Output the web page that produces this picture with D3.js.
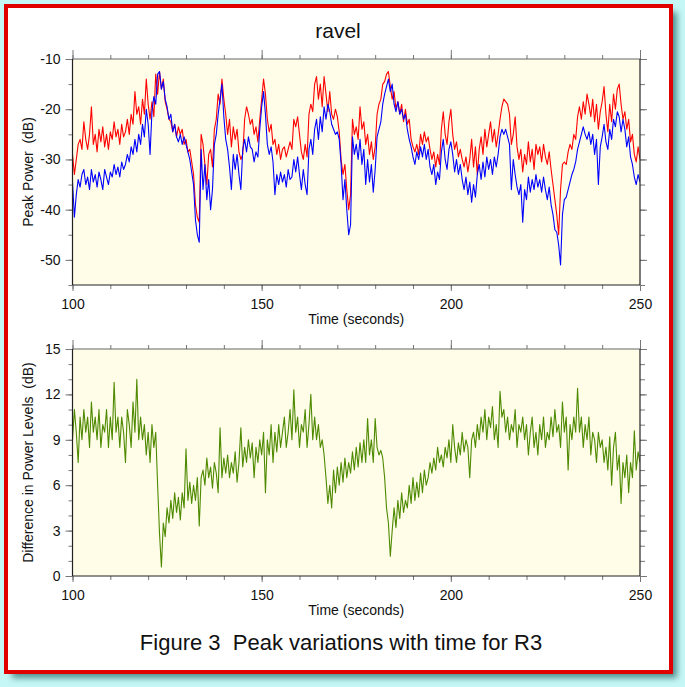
<!DOCTYPE html>
<html><head><meta charset="utf-8">
<script src="https://cdn.jsdelivr.net/npm/d3@7"></script>
<style>html,body{margin:0;padding:0;background:#c6f7f7;} svg{display:block;} text{white-space:pre;}</style>
</head><body><svg id="c" width="685" height="687"></svg>
<script>
const titleText = "ravel";
const captionText = "Figure 3  Peak variations with time for R3";
const xLabel = "Time (seconds)";
const yLabelTop = "Peak Power  (dB)";
const yLabelBottom = "Difference in Power Levels  (dB)";
const timeStart = 100, timeStep = 0.5;
const xMajorTicks = [100, 150, 200, 250];
const yTopTicks = [-10, -20, -30, -40, -50];
const yBottomTicks = [0, 3, 6, 9, 12, 15];

const peakRed = [
-29,-33,-30,-27,-26,-28,-22.5,-26,-28,-25,
-19.5,-27,-25,-28.5,-24,-26.5,-23.5,-27.5,-25,-28,
-24.5,-26,-22.5,-25.5,-24,-27,-23,-25.5,-24.5,-22,
-25,-21,-23,-16.5,-21,-19.5,-23,-18,-21,-14,
-19,-22,-18.5,-21.5,-13,-17,-12.5,-16,-14,-18.5,
-20,-22,-22.5,-24.5,-23,-25.5,-23.5,-25,-24,-27,
-26,-28.5,-28,-30.5,-33,-39,-41.5,-42.5,-25,-27,
-31,-35,-29,-28,-31.5,-24,-22,-17,-19,-14,
-18,-21,-25,-22,-27.5,-23.5,-26,-24,-28.5,-30,
-29,-22,-19.5,-21,-23,-22,-25,-23.5,-26.5,-22,
-18,-14,-17,-22,-24.5,-23,-27,-26,-29,-27,
-30,-28,-27.5,-29.5,-28,-26.5,-28,-22,-23.5,-21.5,
-25,-28.5,-30,-27,-29.5,-21,-19,-20.5,-15,-13.5,
-18,-15,-19.5,-13.5,-17,-20.5,-16.5,-21,-22,-20,
-21.5,-24.5,-30,-33,-31,-36,-40,-37,-22,-25,
-23.5,-26,-19.5,-24,-22.5,-27,-25,-29,-26.5,-30,
-27.5,-21,-19,-18,-15,-14.5,-13,-12.5,-15.5,-18,
-16.5,-20,-18.5,-21,-19,-22.5,-20,-23,-22,-26,
-27.5,-28.5,-27,-29,-25,-27,-24.5,-26.5,-25.5,-28,
-30,-28.5,-31.5,-29,-31,-24,-20.5,-25,-27,-22.5,
-20,-25,-28,-26.5,-29.5,-28,-30,-31.5,-29.5,-32.5,
-30,-26,-31.5,-27.5,-33,-28,-25.5,-29,-24,-27.5,
-25,-22.5,-26.5,-24,-27.5,-25,-22,-19.5,-18,-18.5,
-19,-21,-27,-25,-21.5,-27.5,-30,-28,-32.5,-29,
-31,-26.5,-30.5,-28,-32,-27,-29,-27.5,-30.5,-27,
-29.5,-31,-28.5,-32,-35,-38,-41,-45,-36,-31,
-30.5,-31,-28.5,-27,-28,-25,-26,-21.5,-19.5,-22,
-18.5,-21,-17,-19,-21.5,-18,-22.5,-19,-24,-20.5,
-18.5,-15.5,-21,-24.5,-19,-22.5,-17,-20,-16,-15,
-19,-22,-20.5,-24,-22,-26.5,-25,-29,-30.5,-27.5,
-30];

const peakBlue = [
-34.5,-41.5,-37,-34,-35.5,-33,-32,-35,-33.5,-36,
-32,-34.5,-33,-35.5,-32.5,-34,-36,-32,-33.5,-35,
-32.5,-33.5,-31,-33,-31.5,-33.5,-30.5,-32,-31,-29,
-30.5,-27.5,-29,-26,-28.5,-25,-27,-23,-25.5,-20,
-23,-29,-20.5,-17.5,-19,-13,-12.5,-16,-14.5,-18,
-19.5,-22,-21,-24.5,-23,-25.5,-26.5,-25,-27,-25.5,
-27,-28.5,-30,-32.5,-35,-42,-45,-46.5,-28,-36,
-31,-38,-34,-40,-36,-27,-25,-21,-18,-15,
-21.5,-26,-28,-31.5,-36,-29,-32,-29,-33,-36,
-28,-26,-28.5,-25.5,-27.5,-28,-30.5,-28.5,-29.5,-24,
-19.5,-16.5,-21,-27,-29,-27.5,-30.5,-37,-33,-35,
-32.5,-34.5,-33,-35.5,-32,-34,-33.5,-30,-32.5,-29.5,
-33,-36,-32,-35,-37,-28,-26,-29,-24,-22,
-26,-21.5,-24.5,-19.5,-22,-19,-20.5,-23,-24,-25,
-24.5,-26,-31,-38,-34,-40,-45,-43,-25.5,-29,
-27,-30,-26,-31,-28,-35,-30,-34.5,-31,-36.5,
-32,-25.5,-24,-22.5,-19,-17,-15.5,-14,-16.5,-15,
-19,-20.5,-18.5,-21,-20,-22,-21,-24,-26,-27.5,
-29.5,-31,-28.5,-30,-27.5,-29.5,-27,-30,-28,-31.5,
-33,-31,-35,-32.5,-34,-28.5,-26,-30,-32,-28,
-26.5,-29,-32.5,-30,-33,-31,-34,-36,-33.5,-37,
-34.5,-38.5,-35,-37.5,-33,-31,-34,-30.5,-33.5,-29.5,
-32,-30,-33,-29.5,-31.5,-29,-25.5,-24,-25,-24,
-25.5,-27,-36,-30,-33,-35.5,-37,-35,-42.5,-36,
-38,-33.5,-36.5,-34,-36,-33,-35.5,-34,-36.5,-33.5,
-36,-38,-35.5,-39,-41,-44,-44.5,-47,-51,-41,
-38,-37.5,-36,-34.5,-33,-32,-30.5,-28,-26.5,-25,
-23.5,-25,-26,-24.5,-27,-25,-29,-26,-35,-27.5,
-25.5,-23,-26.5,-28,-24,-26,-22,-23.5,-20.5,-21.5,
-24.5,-22,-24,-27.5,-25.5,-29.5,-31,-33.5,-35,-33,
-34.5];

const powerDiff = [
9,11,9.5,7.5,10.5,9,11,9.5,10.5,8.5,
11.5,9.5,10.5,9,11,8.5,10,9.5,11,8.5,
10.5,9,12.8,9.5,10.5,8.5,10.5,9.5,7.5,11,
10,8.5,11.5,9.5,13,9,10.5,9,10,8,
9.5,7.5,10,8.5,9.5,6,2.8,0.6,3.5,2.6,
4.5,3.5,5,3.8,5.5,4.2,5.2,3.7,5.5,4.5,
8.4,5,6.2,4.8,6,5,6.5,3.3,6.5,7,
6,7.8,6.5,7.2,5.8,7.5,6.8,5.5,9.8,6.5,
7.8,6.8,8,6.5,7.5,6.8,8.2,6.2,7.5,9.8,
7.2,8.5,7.5,9,7.8,8.8,6.5,8.5,7.5,9,
8,9.5,5.5,9,8,10,7.5,9.5,8.2,10,
8.5,9.5,10.5,8.5,9.5,11,9,12.3,9.5,10.5,
8.5,10,9.5,11,8.5,10,12,9,10.5,9,
10,8.5,9,8,6.5,4.8,6,4.5,7,5.5,
7.2,6,7.5,6.2,7.8,6.5,7.5,6.8,8.2,7,
8.5,7.2,8.8,7.5,9,7.5,10.4,8,9,7.5,
10.4,8.5,8,8.3,7.8,6.5,4.5,3.5,1.3,3,
4.5,3.2,5,3.8,5.5,4.2,5,4.5,6,4.8,
6.5,5,6.2,5.2,6.8,5.5,7,6,6.5,7.5,
6.8,7.8,7,8.5,7.5,8,7.2,8.5,7.8,9,
7.5,10,8.5,7.5,8.8,8,9.5,8.2,9,8.5,
6.5,9,9.5,8.5,10,9,10.5,9.5,11,9,
10.5,9.8,11.2,9,10,8.5,12.2,10.5,11,9.5,
10.5,9,10,9.5,11,8.5,10,9.5,10.5,9,
10,8,9.5,10.5,8.5,9.5,8,10,9,10.5,
8.5,9.5,9,10.5,9.2,11,9.5,10,8.5,11.5,
9.5,10.5,7,10,9,10.5,9.5,12.4,9.5,10.5,
8.5,10,9,10.5,8,9.5,9,7.5,9.5,8.5,
9,7.5,8.5,7,9.2,6,8.5,9.5,7,8,
4.8,7.5,6.5,8,5.5,7.5,6.5,9.6,7,8.2,
7.5];

const FONT = '"Liberation Sans", Arial, Helvetica, sans-serif';
const svg = d3.select("#c");
const defs = svg.append("defs");
const f = defs.append("filter").attr("id","sh").attr("x","-5%").attr("y","-5%").attr("width","115%").attr("height","115%");
f.append("feGaussianBlur").attr("stdDeviation", 3);

// shadow + frame
svg.append("rect").attr("x", 12).attr("y", 12).attr("width", 665).attr("height", 666)
  .attr("fill", "#4f9090").attr("filter", "url(#sh)");
svg.append("rect").attr("x", 6).attr("y", 6).attr("width", 665).attr("height", 666)
  .attr("fill", "#ffffff").attr("stroke", "#e00000").attr("stroke-width", 4);

const x = d3.scaleLinear().domain([100, 250]).range([72.5, 640]);
const xMinor = d3.range(100, 251, 10);
const plainFmt = d => String(d);

function panel(yScale, majorY, minorY, seriesList, clipId, ylab) {
  const [y0, y1] = yScale.range(); // bottom, top
  const L = x.range()[0], R = x.range()[1];
  const g = svg.append("g");
  g.append("rect").attr("x", L).attr("y", y1).attr("width", R - L).attr("height", y0 - y1).attr("fill", "#fffde8");
  defs.append("clipPath").attr("id", clipId).append("rect")
    .attr("x", L).attr("y", y1).attr("width", R - L).attr("height", y0 - y1);
  const lg = g.append("g").attr("clip-path", `url(#${clipId})`);
  seriesList.forEach(s => {
    const line = d3.line().x((d, i) => x(timeStart + i * timeStep)).y(d => yScale(d));
    lg.append("path").datum(s.values).attr("d", line).attr("fill", "none")
      .attr("stroke", s.color).attr("stroke-width", 1.1).attr("stroke-linejoin", "round");
  });
  const style = a => {
    a.select(".domain").remove();
    a.selectAll(".tick line").attr("stroke", "#777");
    a.selectAll("text").attr("font-family", FONT).attr("font-size", 14).attr("fill", "#111");
  };
  g.append("g").attr("transform", `translate(0,${y0})`)
    .call(d3.axisBottom(x).tickValues(xMinor).tickSize(4).tickFormat("")).call(style);
  g.append("g").attr("transform", `translate(0,${y0})`)
    .call(d3.axisBottom(x).tickValues(xMajorTicks).tickSize(6).tickPadding(8).tickFormat(plainFmt)).call(style);
  g.append("g").attr("transform", `translate(0,${y1})`)
    .call(d3.axisTop(x).tickValues(xMinor).tickSize(4).tickFormat("")).call(style);
  g.append("g").attr("transform", `translate(0,${y1})`)
    .call(d3.axisTop(x).tickValues(xMajorTicks).tickSize(9).tickFormat("")).call(style);
  g.append("g").attr("transform", `translate(${L},0)`)
    .call(d3.axisLeft(yScale).tickValues(minorY).tickSize(4).tickFormat("")).call(style);
  g.append("g").attr("transform", `translate(${L},0)`)
    .call(d3.axisLeft(yScale).tickValues(majorY).tickSize(7).tickPadding(5).tickFormat(plainFmt)).call(style);
  g.append("g").attr("transform", `translate(${R},0)`)
    .call(d3.axisRight(yScale).tickValues(minorY).tickSize(5).tickFormat("")).call(style);
  g.append("g").attr("transform", `translate(${R},0)`)
    .call(d3.axisRight(yScale).tickValues(majorY).tickSize(7).tickFormat("")).call(style);
  g.append("line").attr("x1", L).attr("x2", R).attr("y1", y1).attr("y2", y1).attr("stroke", "#666").attr("stroke-width", 1.2);
  g.append("line").attr("x1", L).attr("x2", R).attr("y1", y0).attr("y2", y0).attr("stroke", "#222").attr("stroke-width", 1.2);
  g.append("line").attr("x1", L).attr("x2", L).attr("y1", y1).attr("y2", y0).attr("stroke", "#222").attr("stroke-width", 1.2);
  g.append("line").attr("x1", R).attr("x2", R).attr("y1", y1).attr("y2", y0).attr("stroke", "#222").attr("stroke-width", 1.2);
  g.append("text").attr("x", (L + R) / 2).attr("y", y0 + 39).attr("text-anchor", "middle")
    .attr("font-family", FONT).attr("font-size", 14).attr("fill", "#111").text(xLabel);
  g.append("text").attr("transform", `translate(33,${(y0 + y1) / 2}) rotate(-90)`).attr("text-anchor", "middle")
    .attr("xml:space", "preserve")
    .attr("font-family", FONT).attr("font-size", 14).attr("fill", "#111").text(ylab);
}

const yTop = d3.scaleLinear().domain([-55, -10]).range([285, 59]);
panel(yTop, yTopTicks, d3.range(-55, -9, 5), [
  {values: peakRed, color: "#ff0000"},
  {values: peakBlue, color: "#0000ff"}
], "clipTop", yLabelTop);

const yBot = d3.scaleLinear().domain([0, 15]).range([576, 349]);
panel(yBot, yBottomTicks, d3.range(0, 16, 1), [
  {values: powerDiff, color: "#4e8a00"}
], "clipBot", yLabelBottom);

svg.append("text").attr("x", 338).attr("y", 38).attr("text-anchor", "middle")
  .attr("font-family", FONT).attr("font-size", 21).attr("fill", "#111").text(titleText);
svg.append("text").attr("x", 341).attr("y", 650).attr("text-anchor", "middle")
  .attr("xml:space", "preserve")
  .attr("font-family", FONT).attr("font-size", 22).attr("fill", "#111").text(captionText);
</script></body></html>
